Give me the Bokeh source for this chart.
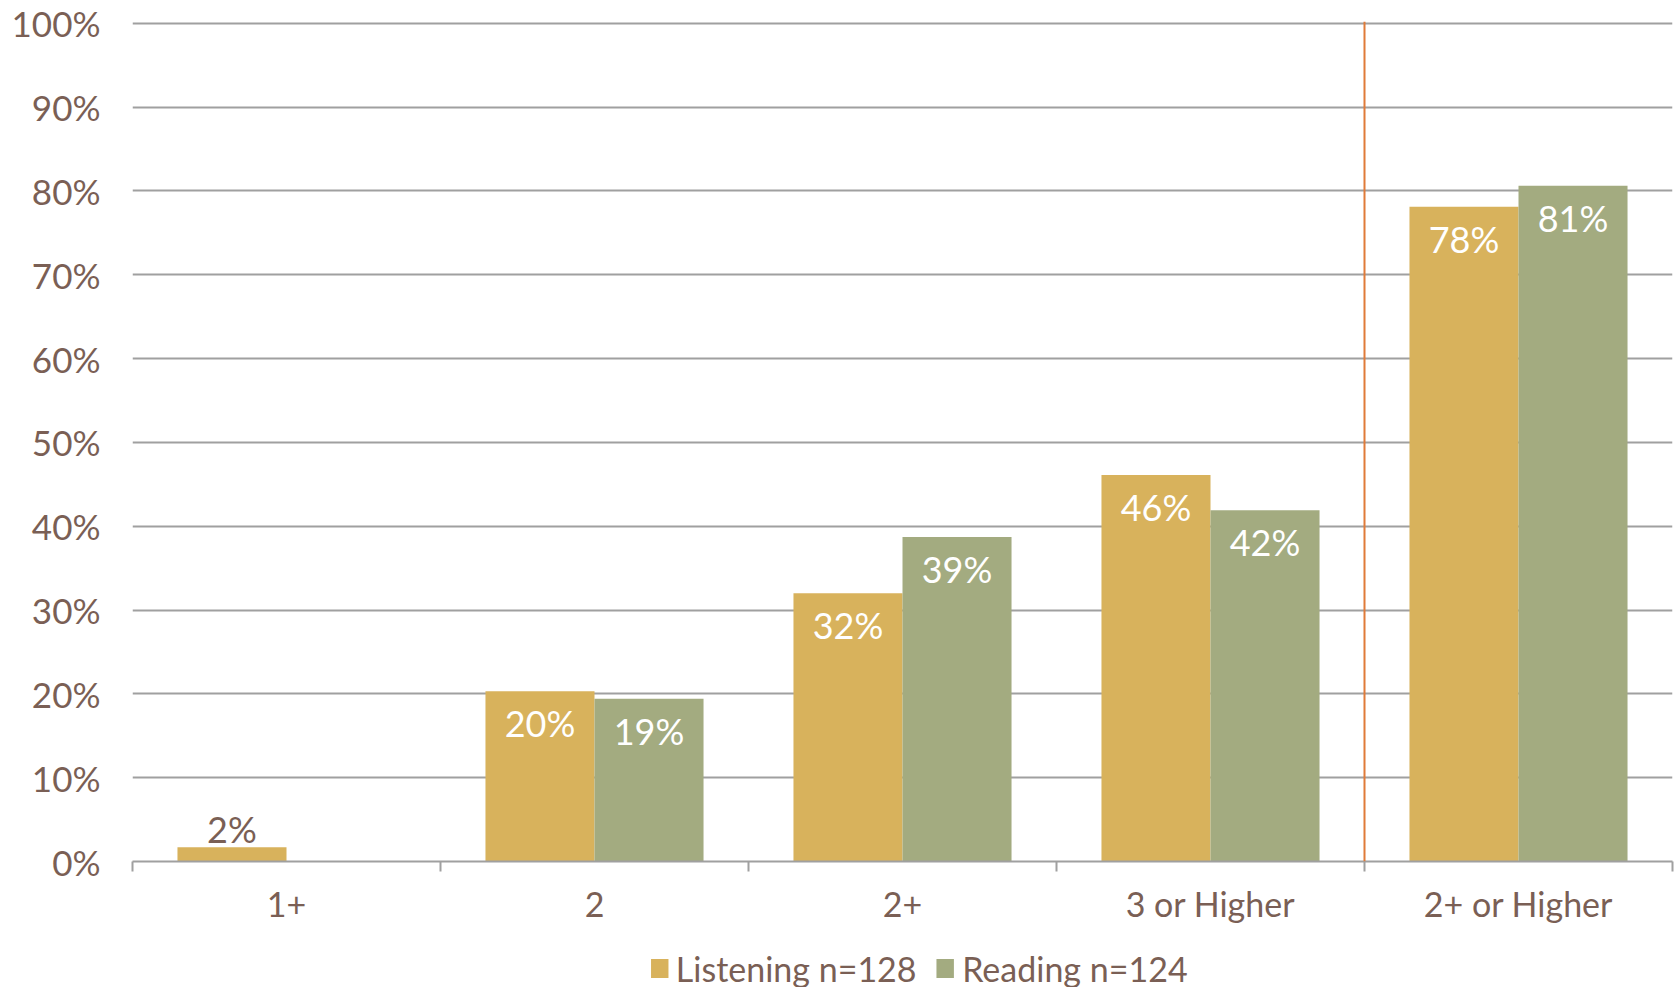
from bokeh.plotting import figure
from bokeh.layouts import column
from bokeh.models import (ColumnDataSource, Range1d, LinearAxis, FixedTicker, Span, LabelSet)
from bokeh.core.properties import value
from bokeh.transform import dodge
from bokeh.embed import file_html
from bokeh.resources import INLINE

categories = ["1+", "2", "2+", "3 or Higher", "2+ or Higher"]
listening = [1.7, 20.3, 32.0, 46.1, 78.1]
reading = [0.0, 19.4, 38.7, 41.9, 80.6]
listening_labels = ["2%", "20%", "32%", "46%", "78%"]
reading_labels = ["", "19%", "39%", "42%", "81%"]
y_ticks = [0, 10, 20, 30, 40, 50, 60, 70, 80, 90, 100]
series_names = ["Listening n=128", "Reading n=124"]

FONT = "Lato"
BROWN = "#7a5f55"
GOLD = "#d8b25c"
SAGE = "#a3ab80"
GRID = "#a0a0a0"

n = len(categories)
centers = [i + 0.5 for i in range(n)]
bounds = list(range(n + 1))

W = 1678
MAIN_H = 930
LEG_H = 57

p = figure(width=W, height=MAIN_H, x_range=Range1d(0, n), y_range=Range1d(0, 100.2),
           output_backend="svg", toolbar_location=None,
           x_axis_location=None, y_axis_location=None)
p.min_border_left = 132
p.min_border_right = 6
p.min_border_top = 21
p.min_border_bottom = MAIN_H - 21 - 840
p.outline_line_color = None
p.background_fill_color = "white"

# y axis
yax = LinearAxis(ticker=FixedTicker(ticks=y_ticks))
yax.major_label_overrides = {t: f"{t}%" for t in y_ticks}
yax.axis_line_color = None
yax.major_tick_line_color = None
yax.minor_tick_line_color = None
yax.major_label_text_font = FONT
yax.major_label_text_font_size = "35px"
yax.major_label_text_color = BROWN
yax.major_label_standoff = 26
p.add_layout(yax, "left")

p.ygrid.ticker = FixedTicker(ticks=y_ticks)
p.ygrid.grid_line_color = GRID
p.ygrid.grid_line_width = 2
p.xgrid.grid_line_color = None

# x axis: labels at centers, tick marks at category boundaries
xax = LinearAxis(ticker=FixedTicker(ticks=centers, minor_ticks=bounds))
xax.major_label_overrides = {c: cat for c, cat in zip(centers, categories)}
xax.axis_line_color = GRID
xax.axis_line_width = 2
xax.major_tick_line_color = None
xax.minor_tick_line_color = GRID
xax.minor_tick_line_width = 2
xax.minor_tick_out = 10
xax.minor_tick_in = 0
xax.major_label_text_font = FONT
xax.major_label_text_font_size = "34px"
xax.major_label_text_color = BROWN
xax.major_label_standoff = 11
p.add_layout(xax, "below")

src = ColumnDataSource(dict(x=centers, listening=listening, reading=reading,
                            lin=[t if v >= 5 else "" for t, v in zip(listening_labels, listening)],
                            lout=[t if v < 5 else "" for t, v in zip(listening_labels, listening)],
                            rlab=reading_labels))

w = 0.354
p.vbar(x=dodge("x", -w / 2), top="listening", width=w, source=src,
       fill_color=GOLD, line_color=None)
p.vbar(x=dodge("x", w / 2), top="reading", width=w, source=src,
       fill_color=SAGE, line_color=None)

p.add_layout(Span(location=4, dimension="height", line_color="#e07b39", line_width=2))

common = dict(source=src, text_align="center", text_baseline="middle",
              text_font=value(FONT), text_font_size="36px")
p.add_layout(LabelSet(x=dodge("x", -w / 2), y="listening", text="lin", y_offset=-32,
                      text_color="white", **common))
p.add_layout(LabelSet(x=dodge("x", -w / 2), y="listening", text="lout", y_offset=18,
                      text_color=BROWN, **common))
p.add_layout(LabelSet(x=dodge("x", w / 2), y="reading", text="rlab", y_offset=-32,
                      text_color="white", **common))

# legend strip drawn as its own small figure (pixel coordinates)
lg = figure(width=W, height=LEG_H, x_range=Range1d(0, W), y_range=Range1d(0, LEG_H),
            output_backend="svg", toolbar_location=None,
            x_axis_location=None, y_axis_location=None)
lg.min_border_left = 0
lg.min_border_right = 0
lg.min_border_top = 0
lg.min_border_bottom = 0
lg.outline_line_color = None
lg.xgrid.grid_line_color = None
lg.ygrid.grid_line_color = None

leg_src = ColumnDataSource(dict(sx=[574.5, 885.5], tx=[592, 904], name=series_names,
                                color=[GOLD, SAGE]))
lg.rect(x="sx", y=LEG_H - 38, width=19, height=19, fill_color="color", line_color=None,
        source=leg_src)
lg.text(x="tx", y=LEG_H - 38, text="name", source=leg_src, text_font=value(FONT),
        text_font_size="34px", text_color=BROWN, text_baseline="middle", text_align="left")

layout = column(p, lg, spacing=0)
open("out.html", "w").write(file_html(layout, INLINE))
